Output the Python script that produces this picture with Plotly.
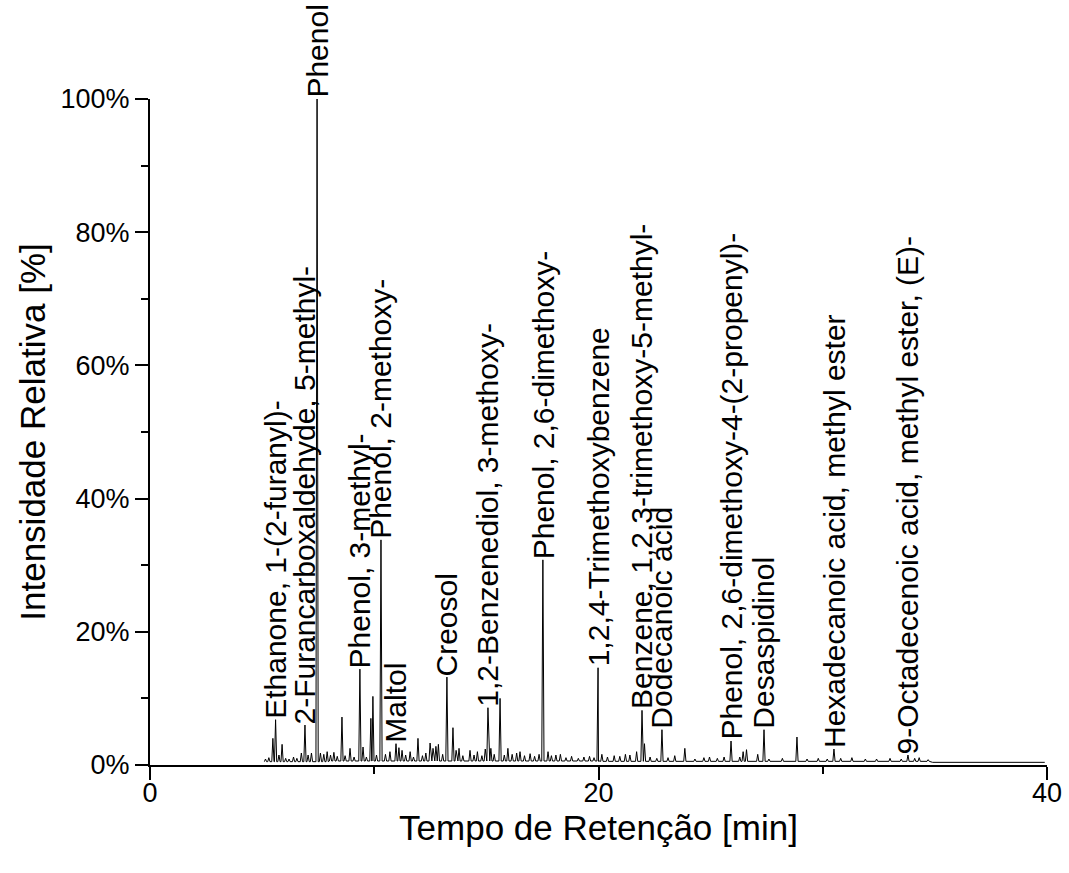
import plotly.graph_objects as go

# Identified compounds: retention time [min], relative intensity [%]
compounds = [
    "Ethanone, 1-(2-furanyl)-",
    "2-Furancarboxaldehyde, 5-methyl-",
    "Phenol",
    "Phenol, 3-methyl-",
    "Phenol, 2-methoxy-",
    "Maltol",
    "Creosol",
    "1,2-Benzenediol, 3-methoxy-",
    "Phenol, 2,6-dimethoxy-",
    "1,2,4-Trimethoxybenzene",
    "Benzene, 1,2,3-trimethoxy-5-methyl-",
    "Dodecanoic acid",
    "Phenol, 2,6-dimethoxy-4-(2-propenyl)-",
    "Desaspidinol",
    "Hexadecanoic acid, methyl ester",
    "9-Octadecenoic acid, methyl ester, (E)-",
]
compound_rt = [5.60, 6.91, 7.45, 9.36, 10.30, 10.97, 13.24, 15.07, 17.52,
               19.98, 21.94, 22.83, 25.91, 27.38, 30.50, 33.80]
compound_int = [6.8, 6.0, 100.0, 14.4, 33.8, 3.2, 13.2, 8.6, 30.8,
                14.6, 8.2, 5.3, 3.6, 5.3, 2.4, 1.5]

# Unassigned minor peaks
minor_rt = [5.15, 5.30, 5.48, 5.75, 5.89, 6.05, 6.20, 6.40, 6.55, 6.75,
            7.05, 7.20, 7.60, 7.75, 7.90, 8.05, 8.20, 8.35, 8.56, 8.70,
            8.92, 9.10, 9.50, 9.65, 9.85, 9.94, 10.10, 10.50, 10.70, 11.10,
            11.24, 11.40, 11.60, 11.75, 11.95, 12.15, 12.30, 12.49, 12.62, 12.75,
            12.86, 13.05, 13.51, 13.65, 13.78, 13.95, 14.27, 14.45, 14.60, 14.80,
            14.95, 15.20, 15.35, 15.61, 15.80, 15.96, 16.15, 16.35, 16.50, 16.70,
            16.95, 17.15, 17.35, 17.75, 17.90, 18.10, 18.30, 18.55, 18.80, 19.10,
            19.35, 19.60, 19.80, 20.15, 20.40, 20.70, 20.95, 21.20, 21.40, 21.70,
            22.05, 22.30, 22.60, 23.10, 23.40, 23.85, 24.30, 24.70, 24.95, 25.30,
            25.60, 26.30, 26.45, 26.60, 27.10, 27.60, 28.20, 28.85, 29.30, 29.80,
            30.20, 30.80, 31.30, 31.90, 32.40, 33.00, 33.50, 34.10, 34.30, 34.70]
minor_int = [0.9, 1.1, 4.0, 1.5, 3.1, 1.0, 0.9, 1.2, 1.0, 1.8,
             1.5, 1.8, 1.8, 1.6, 2.0, 1.5, 1.9, 1.3, 7.2, 1.4,
             2.5, 1.2, 2.7, 1.2, 7.0, 10.3, 1.5, 1.6, 2.0, 2.6,
             2.2, 1.5, 2.0, 1.2, 4.0, 1.4, 1.8, 3.3, 2.5, 2.8,
             3.1, 1.6, 5.6, 2.2, 2.5, 1.4, 2.2, 1.5, 2.0, 1.4,
             2.4, 2.5, 1.6, 10.0, 1.5, 2.5, 1.6, 1.8, 2.0, 1.4,
             1.7, 1.3, 1.6, 2.0, 1.4, 1.5, 1.6, 1.1, 1.3, 1.0,
             1.2, 1.3, 1.1, 1.6, 1.2, 1.4, 1.3, 1.6, 1.5, 2.0,
             3.2, 1.2, 1.0, 1.1, 1.4, 2.5, 0.9, 1.1, 1.2, 1.0,
             1.2, 1.2, 2.0, 2.3, 1.6, 0.9, 1.0, 4.2, 0.9, 1.0,
             0.9, 1.0, 1.1, 0.9, 0.9, 1.0, 0.9, 1.0, 1.1, 0.8]

# Baseline level segments (start time [min], level [%])
baseline_rt = [5.10, 8.00, 20.00, 34.90, 39.90]
baseline_int = [0.5, 0.6, 0.55, 0.4, 0.4]

# Axis ticks
x_ticks = [0, 20, 40]
y_ticks = [0, 20, 40, 60, 80, 100]
y_ticktext = ["0%", "20%", "40%", "60%", "80%", "100%"]

PEAK_HALF_WIDTH = 0.05  # min


def base_at(t):
    level = baseline_int[0]
    for bt, bl in zip(baseline_rt, baseline_int):
        if bt <= t:
            level = bl
    return level


# assemble the chromatogram trace from the peak table and baseline
pts = [(t, v) for t, v in zip(baseline_rt, baseline_int)]
for t, h in list(zip(compound_rt, compound_int)) + list(zip(minor_rt, minor_int)):
    b = base_at(t)
    pts += [(t - PEAK_HALF_WIDTH, b), (t, h), (t + PEAK_HALF_WIDTH, b)]
pts.sort(key=lambda p: p[0])
tx = [p[0] for p in pts]
ty = [p[1] for p in pts]

FONT = "Arial, Liberation Sans, sans-serif"

fig = go.Figure()
fig.add_trace(go.Scatter(x=tx, y=ty, mode="lines",
                         line=dict(color="black", width=1), hoverinfo="skip",
                         showlegend=False))

for name, t, h in zip(compounds, compound_rt, compound_int):
    fig.add_annotation(x=t, y=h, text=name, textangle=-90, showarrow=False,
                       xanchor="center", yanchor="bottom", borderpad=0,
                       font=dict(family=FONT, size=30, color="black"))

fig.update_layout(
    width=1069, height=873,
    margin=dict(l=150, r=22, t=99, b=108, autoexpand=False),
    paper_bgcolor="white", plot_bgcolor="white",
    font=dict(family=FONT, color="black"),
    xaxis=dict(range=[0, 40], tickvals=x_ticks, showgrid=False, zeroline=False,
               automargin=False,
               showline=True, linecolor="black", linewidth=2,
               ticks="outside", ticklen=13, tickwidth=2, tickcolor="black",
               ticklabelstandoff=-10,
               minor=dict(dtick=10, ticks="outside", ticklen=7, tickwidth=2,
                          tickcolor="black", showgrid=False),
               tickfont=dict(size=27),
               title=dict(text="Tempo de Retenção [min]", font=dict(size=35), standoff=6)),
    yaxis=dict(range=[0, 100], tickvals=y_ticks, ticktext=y_ticktext,
               showgrid=False, zeroline=False, automargin=False,
               showline=True, linecolor="black", linewidth=2,
               ticks="outside", ticklen=13, tickwidth=2, tickcolor="black",
               minor=dict(dtick=10, ticks="outside", ticklen=7, tickwidth=2,
                          tickcolor="black", showgrid=False),
               tickfont=dict(size=27),
               title=dict(text="Intensidade Relativa [%]", font=dict(size=35), standoff=4)),
)

fig.write_html("out.html")
